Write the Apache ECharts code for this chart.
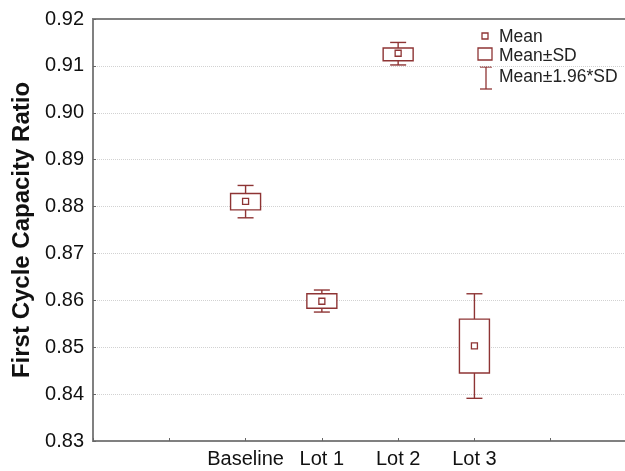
<!DOCTYPE html>
<html>
<head>
<meta charset="utf-8">
<script src="https://cdn.jsdelivr.net/npm/echarts@6/dist/echarts.min.js"></script>
<style>
  html, body { margin: 0; padding: 0; background: #fff; }
  #chart { width: 625px; height: 471px; }
</style>
</head>
<body>
<div id="chart"></div>
<script>
// values
const categories = ['Baseline', 'Lot 1', 'Lot 2', 'Lot 3'];
const positions = [2, 3, 4, 5];
const means = [0.8811, 0.8598, 0.9127, 0.8503];
const sdLow = [0.8793, 0.8583, 0.9111, 0.8445];
const sdHigh = [0.8828, 0.8614, 0.9138, 0.8560];
const ciLow = [0.8776, 0.8575, 0.9102, 0.8391];
const ciHigh = [0.8845, 0.8622, 0.9150, 0.8614];

const red = '#8e3434';
const font = 'Liberation Sans, Arial, sans-serif';

let chart = echarts.init(document.getElementById('chart'));

const whiskerData = positions.map((p, i) => [p, ciLow[i], ciHigh[i]]);
const boxData = positions.map((p, i) => [p, sdLow[i], sdHigh[i]]);
const meanData = positions.map((p, i) => [p, means[i]]);

function renderWhisker(params, api) {
  let lo = api.coord([api.value(0), api.value(1)]);
  let hi = api.coord([api.value(0), api.value(2)]);
  let half = 8;
  let style = { stroke: red, lineWidth: 1.4, fill: null };
  return {
    type: 'group',
    children: [
      { type: 'line', shape: { x1: lo[0], y1: lo[1], x2: hi[0], y2: hi[1] }, style: style },
      { type: 'line', shape: { x1: lo[0] - half, y1: lo[1], x2: lo[0] + half, y2: lo[1] }, style: style },
      { type: 'line', shape: { x1: hi[0] - half, y1: hi[1], x2: hi[0] + half, y2: hi[1] }, style: style }
    ]
  };
}

function renderBox(params, api) {
  let lo = api.coord([api.value(0), api.value(1)]);
  let hi = api.coord([api.value(0), api.value(2)]);
  let half = 15;
  return {
    type: 'rect',
    shape: { x: lo[0] - half, y: hi[1], width: half * 2, height: lo[1] - hi[1] },
    style: { stroke: red, lineWidth: 1.4, fill: '#fff' }
  };
}

let option = {
  animation: false,
  backgroundColor: '#fff',
  grid: {
    left: 93, right: -2, top: 19, bottom: 30,
    outerBoundsMode: 'none',
    containLabel: false,
    show: true, borderColor: '#808080', borderWidth: 2
  },
  xAxis: {
    type: 'value',
    min: 0, max: 7, interval: 1,
    axisLine: { show: true, lineStyle: { color: '#808080', width: 2 } },
    axisTick: { show: true, inside: true, length: 3, lineStyle: { color: '#666' } },
    splitLine: { show: false },
    axisLabel: {
      color: '#111', fontFamily: font, fontSize: 20, margin: 8,
      showMinLabel: true, showMaxLabel: true,
      formatter: function (v) {
        let i = positions.indexOf(v);
        return i >= 0 ? categories[i] : '';
      }
    }
  },
  yAxis: {
    type: 'value',
    min: 0.83, max: 0.92, interval: 0.01,
    name: 'First Cycle Capacity Ratio',
    nameLocation: 'middle',
    nameGap: 52,
    nameTextStyle: { color: '#111', fontFamily: font, fontSize: 24, fontWeight: 'bold' },
    axisLine: { show: true, lineStyle: { color: '#808080', width: 2 } },
    axisTick: { show: true, inside: true, length: 3, lineStyle: { color: '#666' } },
    splitLine: {
      show: true, showMinLine: false, showMaxLine: false,
      lineStyle: { color: '#d2d2d2', type: 'dotted', width: 1 }
    },
    axisLabel: {
      color: '#111', fontFamily: font, fontSize: 20, margin: 9,
      formatter: function (v) { return v.toFixed(2); }
    }
  },
  series: [
    {
      name: 'Mean±1.96*SD',
      type: 'custom',
      renderItem: renderWhisker,
      data: whiskerData,
      z: 2
    },
    {
      name: 'Mean±SD',
      type: 'custom',
      renderItem: renderBox,
      data: boxData,
      z: 3
    },
    {
      name: 'Mean',
      type: 'scatter',
      symbol: 'rect',
      symbolSize: 6,
      itemStyle: { color: '#fff', borderColor: red, borderWidth: 1.3, opacity: 1 },
      data: meanData,
      z: 4
    }
  ],
  graphic: [
    { type: 'rect', shape: { x: 482, y: 33, width: 6, height: 6 }, style: { fill: '#fff', stroke: red, lineWidth: 1.3 } },
    { type: 'text', x: 499, y: 37, style: { text: 'Mean', font: '17.5px ' + font, fill: '#222', verticalAlign: 'middle' } },
    { type: 'rect', shape: { x: 478, y: 48, width: 14, height: 12 }, style: { fill: '#fff', stroke: red, lineWidth: 1.3 } },
    { type: 'text', x: 499, y: 56, style: { text: 'Mean±SD', font: '17.5px ' + font, fill: '#222', verticalAlign: 'middle' } },
    { type: 'line', shape: { x1: 486, y1: 67, x2: 486, y2: 89 }, style: { stroke: red, lineWidth: 1.3 } },
    { type: 'line', shape: { x1: 480, y1: 67, x2: 492, y2: 67 }, style: { stroke: red, lineWidth: 1.3 } },
    { type: 'line', shape: { x1: 480, y1: 89, x2: 492, y2: 89 }, style: { stroke: red, lineWidth: 1.3 } },
    { type: 'text', x: 499, y: 77, style: { text: 'Mean±1.96*SD', font: '17.5px ' + font, fill: '#222', verticalAlign: 'middle' } }
  ]
};

chart.setOption(option);
</script>
</body>
</html>
